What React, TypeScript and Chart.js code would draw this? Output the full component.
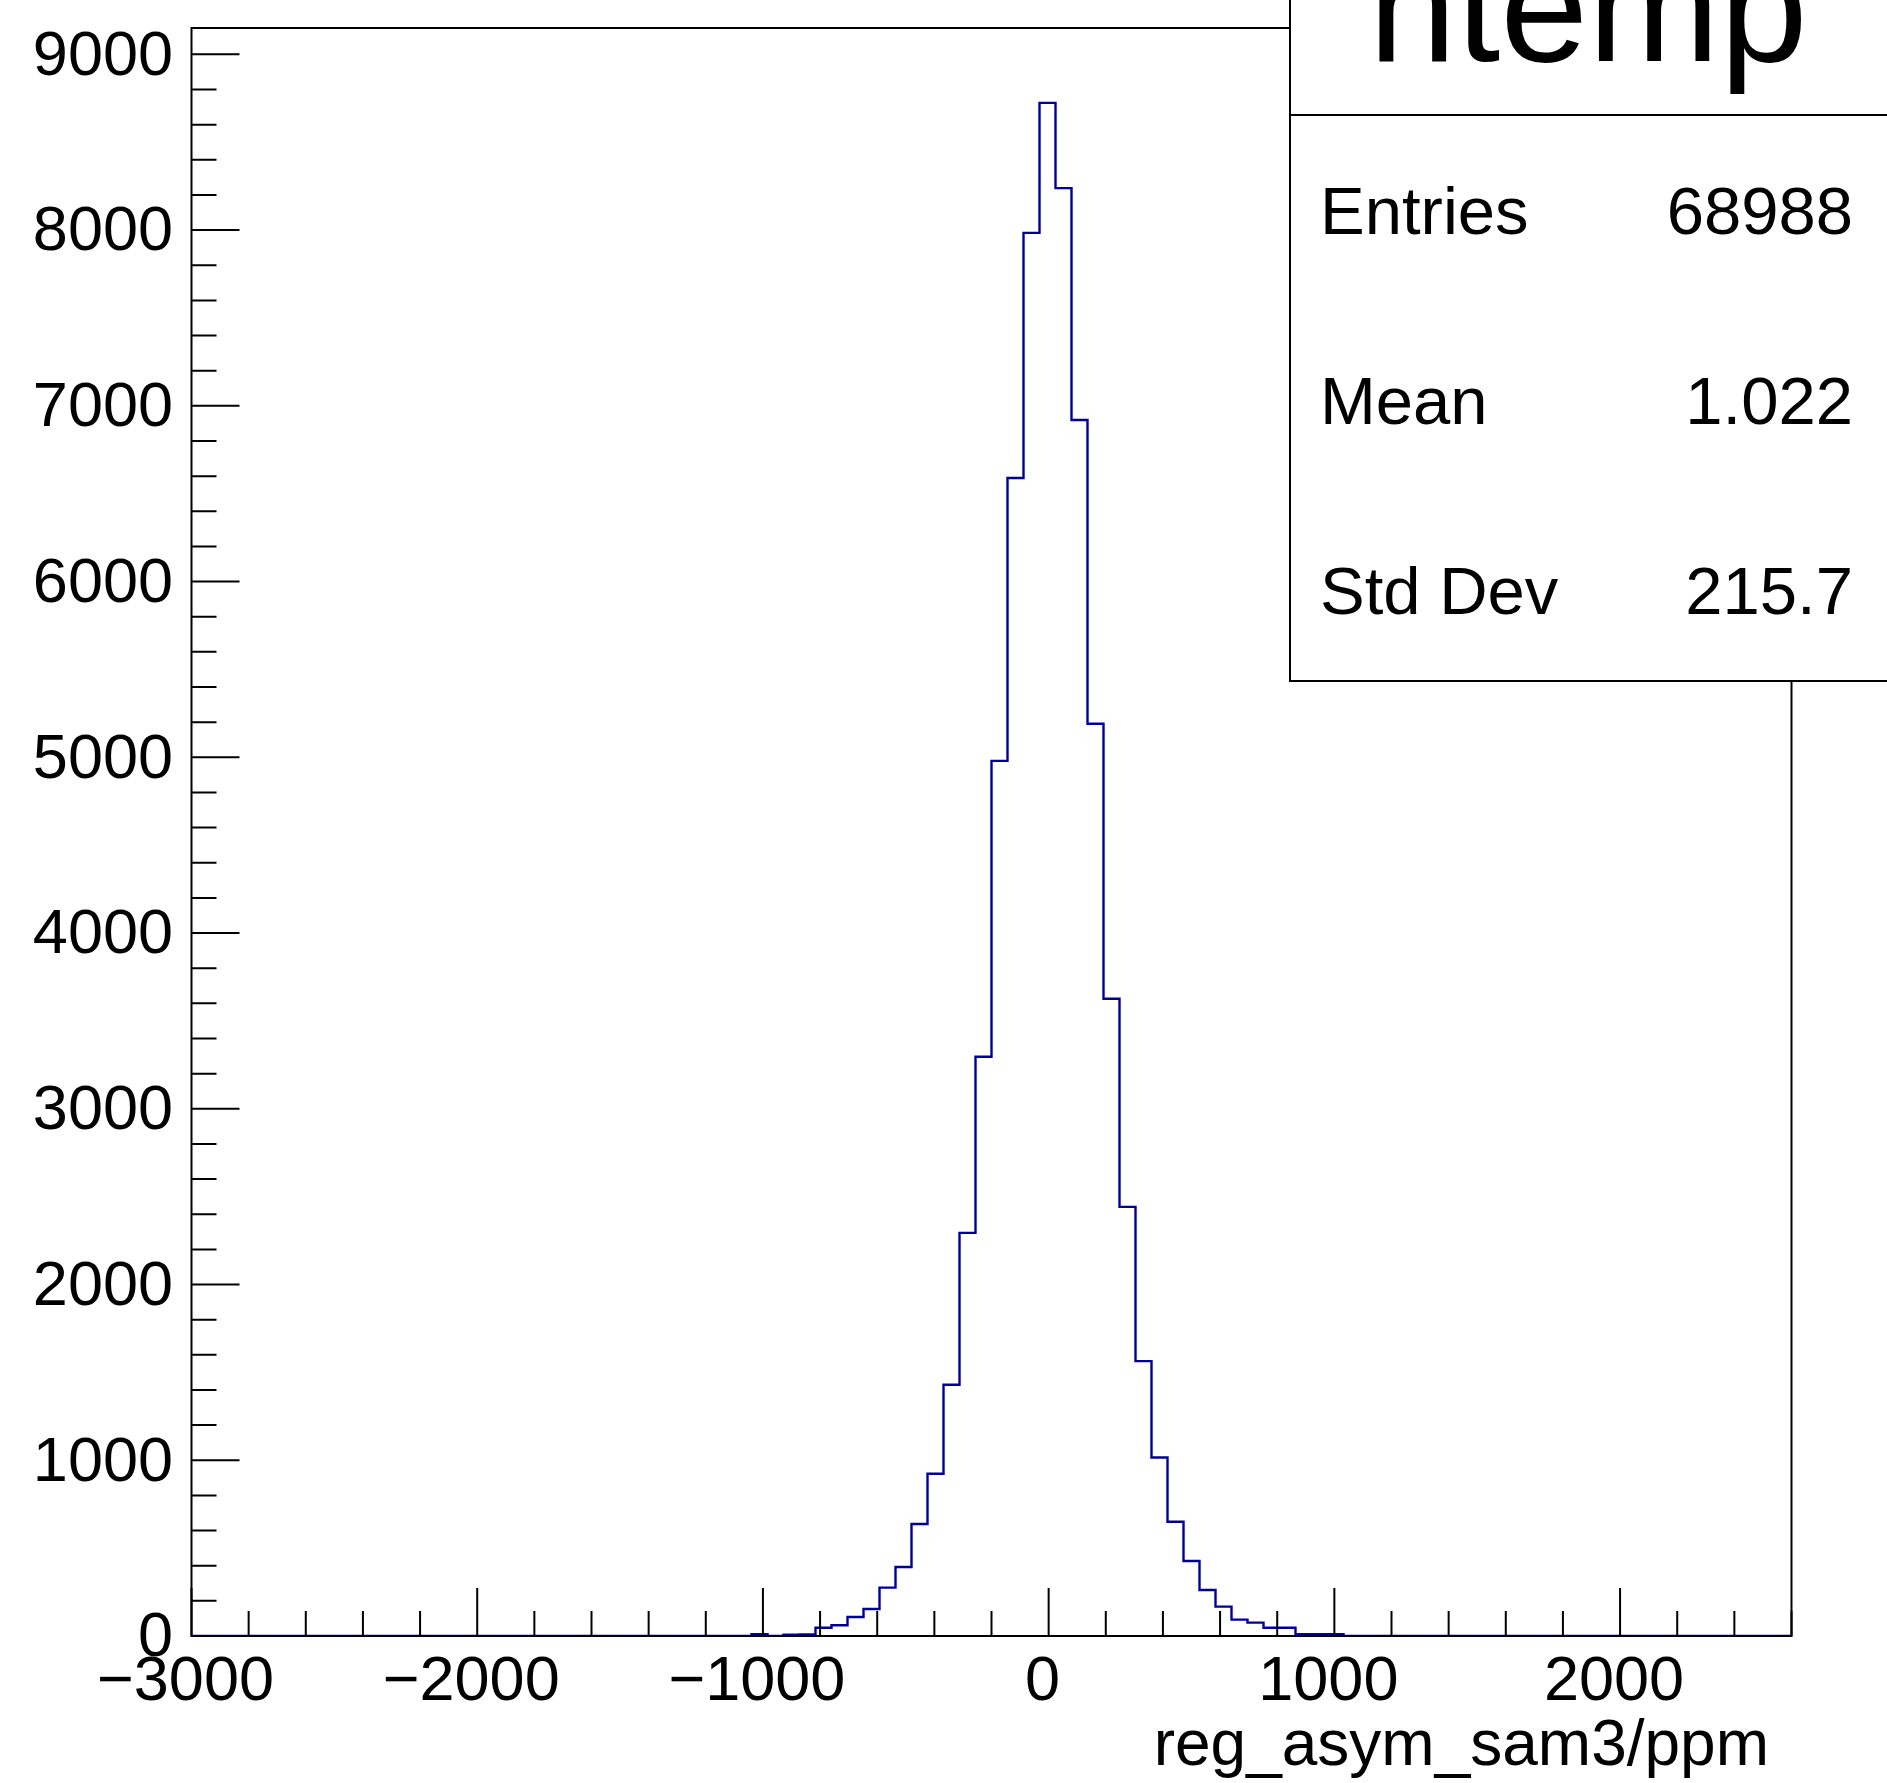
import React, { useEffect, useRef } from "react";
import { Chart, registerables } from "chart.js";

Chart.register(...registerables);

// ---- data ----
const histMin = -3000;
const histMax = 2600;
const binWidth = 56;
const counts = [
  0, 0, 0, 0, 0, 0, 0, 0, 0, 0,
  0, 0, 0, 0, 0, 0, 0, 0, 0, 0,
  0, 0, 0, 0, 0, 0, 0, 0, 0, 0,
  0, 0, 0, 0, 0, 10, 0, 8, 9, 47,
  61, 108, 154, 275, 393, 637, 923, 1430, 2294, 3296,
  4980, 6589, 7984, 8724, 8239, 6919, 5191, 3626, 2442, 1564,
  1016, 650, 427, 262, 167, 93, 76, 47, 47, 10,
  10, 10, 0, 0, 0, 0, 0, 0, 0, 0,
  0, 0, 0, 0, 0, 0, 0, 0, 0, 0,
  0, 0, 0, 0, 0, 0, 0, 0, 0, 0,
];
const yMax = 9150;
const xTickValues = [-3000, -2000, -1000, 0, 1000, 2000];
const yTickValues = [0, 1000, 2000, 3000, 4000, 5000, 6000, 7000, 8000, 9000];
const minorStep = 200;
const majorStep = 1000;
const histName = "htemp";
const statLabels = ["Entries", "Mean", "Std Dev"];
const statValues = ["68988", "1.022", "215.7"];
const xTitle = "reg_asym_sam3/ppm";

const FONT = "'Liberation Sans', Arial, Helvetica, sans-serif";
const W = 1887;
const H = 1783;

const rootPlugin = {
  id: "rootDecor",
  afterDatasetsDraw(chart: any) {
    const { ctx, chartArea: a, scales } = chart;
    const x = scales.x;
    const y = scales.y;
    ctx.save();
    ctx.strokeStyle = "#000";
    ctx.lineWidth = 2;
    ctx.strokeRect(a.left, a.top, a.right - a.left, a.bottom - a.top);
    ctx.beginPath();
    for (let v = 0; v <= yMax; v += minorStep) {
      const py = y.getPixelForValue(v);
      const len = v % majorStep === 0 ? 48 : 25;
      ctx.moveTo(a.left, py);
      ctx.lineTo(a.left + len, py);
    }
    for (let v = histMin; v <= histMax; v += minorStep) {
      const px = x.getPixelForValue(v);
      const len = v % majorStep === 0 ? 48 : 25;
      ctx.moveTo(px, a.bottom);
      ctx.lineTo(px, a.bottom - len);
    }
    ctx.stroke();
    ctx.restore();
  },
  afterDraw(chart: any) {
    const { ctx } = chart;
    ctx.save();
    // stats box
    const bx = 1290;
    const by = -6;
    const bw = 700;
    const bBottom = 681;
    ctx.fillStyle = "#fff";
    ctx.fillRect(bx, by, bw, bBottom - by);
    ctx.strokeStyle = "#000";
    ctx.lineWidth = 2;
    ctx.strokeRect(bx, by, bw, bBottom - by);
    ctx.beginPath();
    ctx.moveTo(bx, 115);
    ctx.lineTo(bx + bw, 115);
    ctx.stroke();
    ctx.fillStyle = "#000";
    ctx.textBaseline = "alphabetic";
    ctx.font = `158px ${FONT}`;
    ctx.textAlign = "center";
    ctx.fillText(histName, 1588, 61);
    ctx.font = `67px ${FONT}`;
    const baselines = [234, 424, 614];
    statLabels.forEach((lab, i) => {
      ctx.textAlign = "left";
      ctx.fillText(lab, 1320, baselines[i]);
      ctx.textAlign = "right";
      ctx.fillText(statValues[i], 1853, baselines[i]);
    });
    // axis title
    ctx.font = `64px ${FONT}`;
    ctx.textAlign = "right";
    ctx.fillText(xTitle, 1769, 1765);
    ctx.restore();
  },
};

export default function App() {
  const canvasRef = useRef<HTMLCanvasElement | null>(null);

  useEffect(() => {
    const canvas = canvasRef.current;
    if (!canvas) return;
    const points = counts.map((c, i) => ({ x: histMin + i * binWidth, y: c }));
    points.push({ x: histMax, y: 0 });

    const tickFont = { family: FONT, size: 63 };
    const fmt = (v: any) => {
      const n = Number(v);
      return n < 0 ? "\u2212" + Math.abs(n) : String(n);
    };

    const chart = new Chart(canvas, {
      type: "line",
      data: {
        datasets: [
          {
            data: points,
            stepped: true,
            borderColor: "rgb(0,0,153)",
            borderWidth: 2.4,
            pointRadius: 0,
            fill: false,
            tension: 0,
          },
        ],
      },
      options: {
        animation: false,
        responsive: false,
        devicePixelRatio: 1,
        parsing: false as any,
        normalized: true,
        layout: { padding: { top: 28, right: 95.5, bottom: 0, left: 0 } },
        plugins: {
          legend: { display: false },
          tooltip: { enabled: false },
          title: { display: false },
        },
        events: [],
        scales: {
          x: {
            type: "linear",
            min: histMin,
            max: histMax,
            grid: { display: false, drawTicks: false },
            border: { display: false },
            ticks: {
              font: tickFont,
              color: "#000",
              padding: 9,
              autoSkip: false,
              maxRotation: 0,
              minRotation: 0,
              labelOffset: -6,
              callback: fmt,
            },
            afterBuildTicks: (s: any) => {
              s.ticks = xTickValues.map((v) => ({ value: v }));
            },
            afterFit: (s: any) => {
              s.height = 147;
              s.paddingLeft = 0;
              s.paddingRight = 0;
              s.paddingTop = 0;
              s.paddingBottom = 0;
            },
          },
          y: {
            type: "linear",
            min: 0,
            max: yMax,
            grid: { display: false, drawTicks: false },
            border: { display: false },
            ticks: {
              font: tickFont,
              color: "#000",
              padding: 18.5,
              autoSkip: false,
              labelOffset: 3,
              callback: fmt,
            },
            afterBuildTicks: (s: any) => {
              s.ticks = yTickValues.map((v) => ({ value: v }));
            },
            afterFit: (s: any) => {
              s.width = 191.5;
              s.paddingLeft = 0;
              s.paddingRight = 0;
              s.paddingTop = 0;
              s.paddingBottom = 0;
            },
          },
        },
      } as any,
      plugins: [rootPlugin],
    });
    return () => chart.destroy();
  }, []);

  return (
    <div style={{ position: "absolute", left: 0, top: 0, width: W, height: H, background: "#fff" }}>
      <canvas ref={canvasRef} width={W} height={H} style={{ display: "block", width: W, height: H }} />
    </div>
  );
}
